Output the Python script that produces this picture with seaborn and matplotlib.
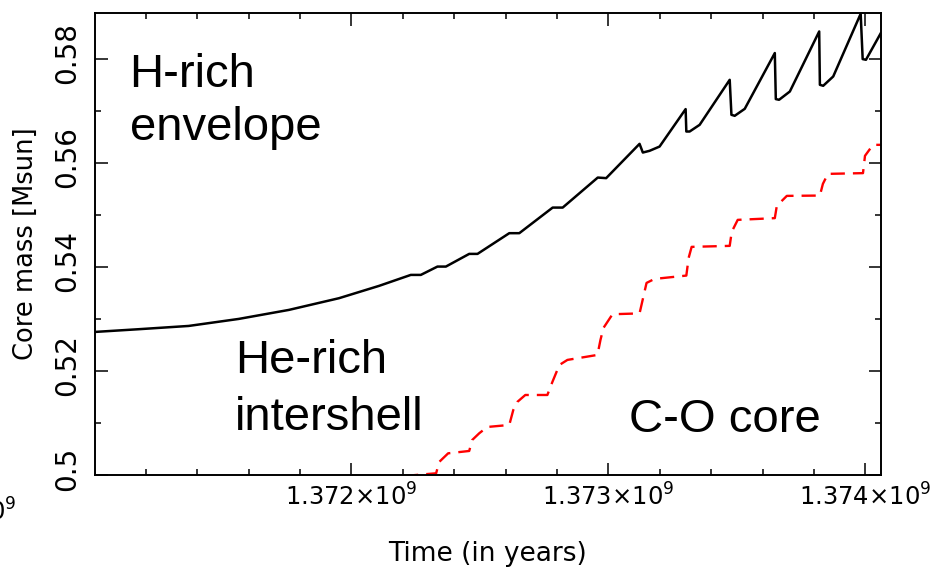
import matplotlib
matplotlib.use("Agg")
import matplotlib.pyplot as plt
import matplotlib.transforms as mtransforms
from matplotlib.ticker import MultipleLocator
import pandas as pd
import seaborn as sns

# H-free core mass (H-burning shell) through the thermal-pulse sequence
h_time = [1.3710020e9, 1.3711715e9, 1.3713665e9, 1.3715614e9, 1.3717563e9, 1.3719513e9,
          1.3721072e9, 1.3722308e9, 1.3722698e9, 1.3723345e9, 1.3723673e9, 1.3724581e9,
          1.3724904e9, 1.3726140e9, 1.3726530e9, 1.3727828e9, 1.3728218e9, 1.3729583e9,
          1.3729910e9, 1.3731209e9, 1.3731337e9, 1.3731598e9, 1.3731988e9, 1.3733002e9,
          1.3733029e9, 1.3733158e9, 1.3733548e9, 1.3734717e9, 1.3734784e9, 1.3734912e9,
          1.3735302e9, 1.3736472e9, 1.3736511e9, 1.3736639e9, 1.3737057e9, 1.3738199e9,
          1.3738226e9, 1.3738355e9, 1.3738745e9, 1.3739813e9, 1.3739891e9, 1.3740019e9,
          1.3740604e9]
h_mass = [0.52750, 0.52802, 0.52865, 0.53000, 0.53173, 0.53398,
          0.53635, 0.53846, 0.53846, 0.54006, 0.54006, 0.54250,
          0.54250, 0.54648, 0.54648, 0.55140, 0.55140, 0.55717,
          0.55706, 0.56365, 0.56198, 0.56231, 0.56313, 0.57033,
          0.56602, 0.56602, 0.56731, 0.57596, 0.56923, 0.56904,
          0.57038, 0.58110, 0.57225, 0.57212, 0.57371, 0.58525,
          0.57500, 0.57481, 0.57660, 0.58865, 0.57994, 0.57981,
          0.58500]

# C-O core mass (He-burning shell)
co_time = [1.3722047e9, 1.3723294e9, 1.3723411e9, 1.3723762e9, 1.3724581e9, 1.3724698e9,
           1.3724971e9, 1.3725283e9, 1.3726140e9, 1.3726296e9, 1.3726452e9, 1.3726764e9,
           1.3727622e9, 1.3727817e9, 1.3728090e9, 1.3728402e9, 1.3729571e9, 1.3729688e9,
           1.3729805e9, 1.3730156e9, 1.3731209e9, 1.3731365e9, 1.3731481e9, 1.3731793e9,
           1.3733029e9, 1.3733119e9, 1.3733236e9, 1.3734717e9, 1.3734795e9, 1.3735029e9,
           1.3736472e9, 1.3736550e9, 1.3736940e9, 1.3738226e9, 1.3738343e9, 1.3738538e9,
           1.3739903e9, 1.3739981e9, 1.3740292e9, 1.3740604e9]
co_mass = [0.49981, 0.50033, 0.50250, 0.50417, 0.50462, 0.50673,
           0.50802, 0.50923, 0.50962, 0.51250, 0.51404, 0.51538,
           0.51538, 0.51788, 0.52115, 0.52212, 0.52308, 0.52596,
           0.52827, 0.53090, 0.53106, 0.53442, 0.53692, 0.53769,
           0.53833, 0.54173, 0.54385, 0.54404, 0.54673, 0.54904,
           0.54937, 0.55173, 0.55365, 0.55371, 0.55596, 0.55788,
           0.55802, 0.56135, 0.56346, 0.56346]

x_ticks = [1.372e9, 1.373e9, 1.374e9]
x_tick_labels = ["1.372×10$^9$", "1.373×10$^9$", "1.374×10$^9$"]
y_ticks = [0.50, 0.52, 0.54, 0.56, 0.58]
y_tick_labels = ["0.5", "0.52", "0.54", "0.56", "0.58"]

sns.set_style("ticks")
plt.rcParams["font.family"] = ["DejaVu Sans"]
plt.rcParams["mathtext.fontset"] = "dejavusans"
plt.rcParams["text.color"] = "black"
plt.rcParams["axes.labelcolor"] = "black"
plt.rcParams["xtick.color"] = "black"
plt.rcParams["ytick.color"] = "black"

fig = plt.figure(figsize=(9.39, 5.68), dpi=100)
ax = fig.add_axes([95 / 939, 93 / 568, 786 / 939, 462 / 568])

df_h = pd.DataFrame({"time": h_time, "mass": h_mass})
df_co = pd.DataFrame({"time": co_time, "mass": co_mass})

sns.lineplot(data=df_h, x="time", y="mass", ax=ax, color="black", lw=1.8,
             sort=False, estimator=None)
sns.lineplot(data=df_co, x="time", y="mass", ax=ax, color="red", lw=1.7,
             linestyle=(0, (6.0, 3.4)), sort=False, estimator=None)

ax.set_xlim(1.371002e9, 1.3740604e9)
ax.set_ylim(0.5, 0.5888)

ax.set_xticks(x_ticks, x_tick_labels)
ax.set_yticks(y_ticks, y_tick_labels)
ax.xaxis.set_minor_locator(MultipleLocator(2e5))
ax.yaxis.set_minor_locator(MultipleLocator(0.01))

for sp in ax.spines.values():
    sp.set_linewidth(1.4)
    sp.set_color("black")

ax.tick_params(which="both", direction="in", top=True, right=True,
               width=1.1, color="black", labelcolor="black")
ax.tick_params(which="major", length=9)
ax.tick_params(which="minor", length=4.5)
ax.tick_params(axis="x", labelsize=17.5, pad=6)
ax.tick_params(axis="y", labelsize=20, pad=10)
for lab in ax.get_yticklabels():
    lab.set_rotation(90)
    lab.set_va("center")
    lab.set_transform(lab.get_transform() +
                      mtransforms.ScaledTranslation(0, 6 / 100, fig.dpi_scale_trans))

ax.set_xlabel("Time (in years)", fontsize=19, labelpad=22, color="black")
ax.set_ylabel("Core mass [Msun]", fontsize=18.5, labelpad=10, color="black")

big = dict(fontsize=34, family=["Liberation Sans", "DejaVu Sans"],
           transform=ax.transAxes, va="baseline", ha="left", color="black")
ax.text(0.044, 0.8405, "H-rich", **big)
ax.text(0.044, 0.7251, "envelope", **big)
ax.text(0.178, 0.2208, "He-rich", **big)
ax.text(0.178, 0.0974, "intershell", **big)
ax.text(0.679, 0.0931, "C-O core", **big)

# neighbouring panel's last tick label, cut by the figure edge
fig.text(16 / 939, 47 / 568, "1.371×10$^9$", fontsize=17.5, ha="right",
         va="baseline", color="black")

fig.savefig("out.png", dpi=100)
